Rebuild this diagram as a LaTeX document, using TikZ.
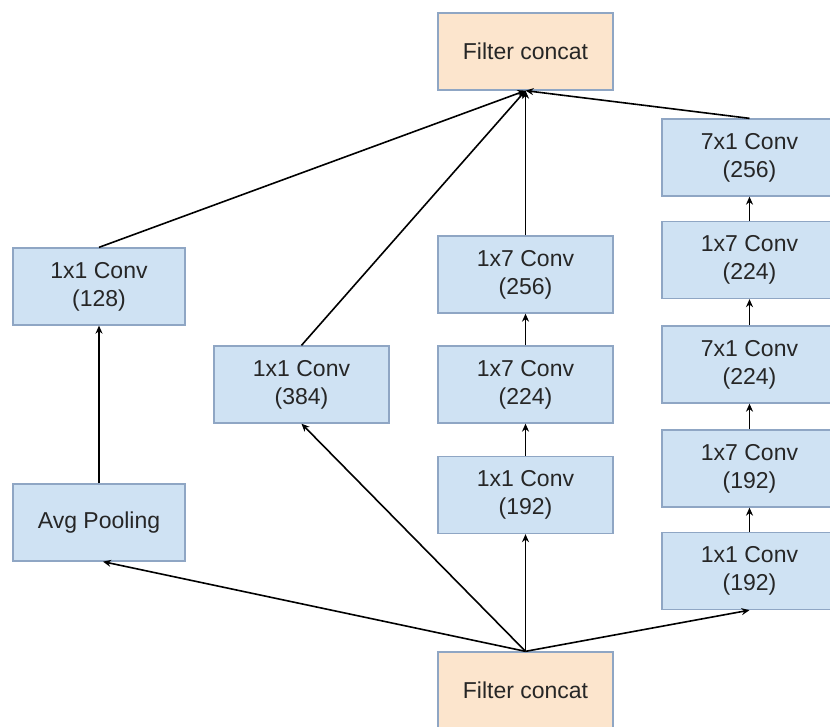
\documentclass[tikz,border=0pt]{standalone}
\usepackage{fontspec}
\setmainfont{Liberation Sans}
\usetikzlibrary{arrows.meta}
\definecolor{boxblue}{HTML}{CFE2F3}
\definecolor{boxorange}{HTML}{FCE5CD}
\definecolor{edgeblue}{HTML}{8FA6C4}
\definecolor{txt}{HTML}{262626}
\tikzset{
  conv/.style={draw=edgeblue, fill=boxblue, line width=1.3pt, minimum width=175pt, minimum height=77pt,
    inner sep=0pt, align=center, text=txt, font=\fontsize{23}{28}\selectfont},
  concat/.style={conv, fill=boxorange},
  flow/.style={draw=black, line width=1.6pt, -{Stealth[length=8pt,width=7pt]}}
}
\begin{document}
\begin{tikzpicture}[x=1pt,y=-1pt]
\fill[white] (0,0) rectangle (830,726);
\useasboundingbox (0,0) rectangle (830,726);
\clip (0,0) rectangle (830,726);
\node[concat] (topc) at (525.5,51.5) {Filter concat};
\node[concat] (botc) at (525.5,690.5) {Filter concat};
\node[conv, minimum width=172pt] (c128) at (99,286.5) {1x1 Conv\\(128)};
\node[conv, minimum width=172pt] (avg) at (99,522.5) {Avg Pooling};
\node[conv] (c384) at (301.5,384.5) {1x1 Conv\\(384)};
\node[conv] (m256) at (525.5,274.5) {1x7 Conv\\(256)};
\node[conv] (m224) at (525.5,384.5) {1x7 Conv\\(224)};
\node[conv] (m192) at (525.5,495) {1x1 Conv\\(192)};
\node[conv] (r256) at (749.5,157.5) {7x1 Conv\\(256)};
\node[conv] (r224a) at (749.5,260) {1x7 Conv\\(224)};
\node[conv] (r224b) at (749.5,364.5) {7x1 Conv\\(224)};
\node[conv] (r192a) at (749.5,468.5) {1x7 Conv\\(192)};
\node[conv] (r192b) at (749.5,571) {1x1 Conv\\(192)};
% from bottom concat
\draw[flow] (botc.north) -- ([xshift=4pt]avg.south);
\draw[flow] (botc.north) -- (c384.south);
\draw[flow] (botc.north) -- (m192.south);
\draw[flow] (botc.north) -- (r192b.south);
% branch 1
\draw[flow] (avg.north) -- (c128.north |- c128.south);
\draw[flow] (c128.north) -- (topc.south);
% branch 2
\draw[flow] (c384.north) -- (topc.south);
% branch 3
\draw[flow] (m192.north) -- (m224.south);
\draw[flow] (m224.north) -- (m256.south);
\draw[flow] (m256.north) -- (topc.south);
% branch 4
\draw[flow] (r192b.north) -- (r192a.south);
\draw[flow] (r192a.north) -- (r224b.south);
\draw[flow] (r224b.north) -- (r224a.south);
\draw[flow] (r224a.north) -- (r256.south);
\draw[flow] (r256.north) -- (topc.south);
\end{tikzpicture}
\end{document}
